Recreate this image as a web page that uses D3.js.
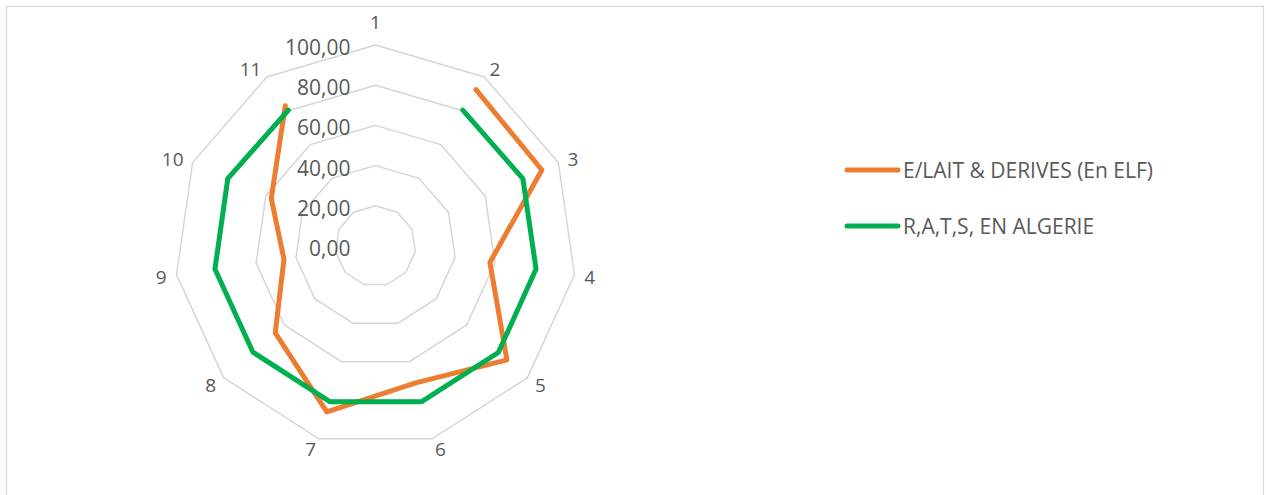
<!DOCTYPE html>
<html>
<head>
<meta charset="utf-8">
<script src="https://cdn.jsdelivr.net/npm/d3@7"></script>
<style>
  html, body { margin: 0; padding: 0; background: #ffffff; }
  svg { display: block; }
  text { font-family: "Open Sans", "Noto Sans", sans-serif; fill: #595959; }
</style>
</head>
<body>
<svg id="chart" width="1266" height="495"></svg>
<script>
// Axes of the radar (1..11)
const categories = ["1", "2", "3", "4", "5", "6", "7", "8", "9", "10", "11"];

// Series values per axis (axis 1 has no value)
const laitValues = [null, 92.5, 91, 57.5, 86.5, 71, 86, 66, 46, 57, 83];
const ratsValues = [null, 80.3, 80.6, 80.7, 80.9, 80.8, 80.7, 80.7, 80.7, 80.8, 80.3];

const seriesNames = ["E/LAIT & DERIVES (En ELF)", "R,A,T,S, EN ALGERIE"];
const seriesColors = ["#ED7D31", "#00B050"];

// Radial gridline levels
const tickValues = [0, 20, 40, 60, 80, 100];

const W = 1266, H = 495;
const cx = 375.5, cy = 246, R = 201;

const svg = d3.select("#chart");

// chart area border
svg.append("rect")
  .attr("x", 6.5).attr("y", 6.5)
  .attr("width", 1257).attr("height", 520)
  .attr("fill", "none").attr("stroke", "#d9d9d9").attr("stroke-width", 1.3);

const r = d3.scaleLinear().domain([0, 100]).range([0, R]);
const angle = d3.scaleLinear().domain([0, categories.length]).range([0, 2 * Math.PI]);

const g = svg.append("g").attr("transform", `translate(${cx},${cy})`);

// gridline polygons
const gridLine = d3.lineRadial()
  .angle((d, i) => angle(i))
  .radius(d => r(d))
  .curve(d3.curveLinearClosed);

g.selectAll("path.grid")
  .data(tickValues)
  .join("path")
  .attr("class", "grid")
  .attr("d", v => gridLine(categories.map(() => v)))
  .attr("fill", "none")
  .attr("stroke", "#d6d6d6")
  .attr("stroke-width", 1.5);

// value labels for gridlines
const locale = d3.formatLocale({ decimal: ",", thousands: " ", grouping: [3], currency: ["", ""] });
const fmt = locale.format(".2f");

g.selectAll("text.tick")
  .data(tickValues)
  .join("text")
  .attr("class", "tick")
  .attr("x", -25)
  .attr("y", v => -r(v) + 2)
  .attr("text-anchor", "end")
  .attr("dominant-baseline", "central")
  .style("font-size", "21px")
  .text(v => fmt(v));

// category labels around the outside
const catLabels = g.selectAll("text.cat")
  .data(categories)
  .join("text")
  .attr("class", "cat")
  .attr("text-anchor", "middle")
  .attr("dominant-baseline", "central")
  .style("font-size", "19px")
  .text(d => d);

catLabels.each(function (d, i) {
  const a = angle(i);
  const ux = Math.sin(a), uy = -Math.cos(a);
  const w = this.getComputedTextLength();
  const vx = ux * r(100), vy = uy * r(100);
  const sx = Math.abs(ux) < 1e-6 ? 0 : Math.sign(ux);
  const dx = ux * 10 + sx * w / 2;
  const dy = uy * 10 + 1 - 14 * Math.pow(Math.max(0, -uy), 20);
  d3.select(this).attr("x", vx + dx).attr("y", vy + dy);
});

// series lines
const seriesLine = d3.lineRadial()
  .defined(d => d != null)
  .angle((d, i) => angle(i))
  .radius(d => r(d));

const seriesData = [laitValues, ratsValues];

g.selectAll("path.series")
  .data(seriesData)
  .join("path")
  .attr("class", "series")
  .attr("d", d => seriesLine(d))
  .attr("fill", "none")
  .attr("stroke", (d, i) => seriesColors[i])
  .attr("stroke-width", 5)
  .attr("stroke-linejoin", "round")
  .attr("stroke-linecap", "round");

// legend
const legend = svg.append("g").attr("transform", "translate(845,170)");
const items = legend.selectAll("g.item")
  .data(seriesNames)
  .join("g")
  .attr("class", "item")
  .attr("transform", (d, i) => `translate(0,${i * 56})`);

items.append("line")
  .attr("x1", 2).attr("x2", 53)
  .attr("y1", 0).attr("y2", 0)
  .attr("stroke", (d, i) => seriesColors[i])
  .attr("stroke-width", 5)
  .attr("stroke-linecap", "round");

items.append("text")
  .attr("x", 58)
  .attr("y", 0)
  .attr("dominant-baseline", "central")
  .style("font-size", "21px")
  .text(d => d);
</script>
</body>
</html>
